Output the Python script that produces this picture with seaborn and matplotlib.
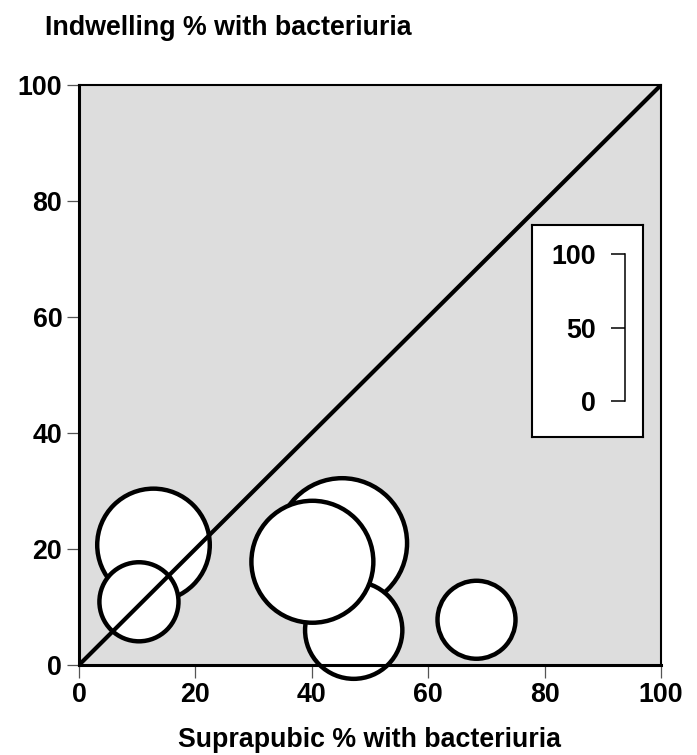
import numpy as np
import pandas as pd
import matplotlib
matplotlib.use("Agg")
import matplotlib.pyplot as plt
import seaborn as sns

# study points: suprapubic vs indwelling % with bacteriuria, bubble weight
suprapubic = [12.8, 10.3, 45.2, 47.2, 40.1, 68.3]
indwelling = [20.7, 10.9, 21.0, 6.0, 17.8, 7.8]
weight = [75, 37, 100, 56, 88, 36]

ticks = [0, 20, 40, 60, 80, 100]
scale_ticks = [0, 50, 100]

df = pd.DataFrame({"x": suprapubic, "y": indwelling, "w": weight})

sns.set_theme(style="white")
plt.rcParams["font.family"] = ["Liberation Sans", "DejaVu Sans"]
plt.rcParams["font.weight"] = "bold"
plt.rcParams["text.color"] = "black"
plt.rcParams["xtick.labelcolor"] = "black"
plt.rcParams["ytick.labelcolor"] = "black"

FS = 19.3

fig = plt.figure(figsize=(6.97, 7.55), dpi=100)
W, H = 697, 755
ax = fig.add_axes([79 / W, 1 - 665 / H, 582 / W, 580 / H])
ax.set_facecolor("#dddddd")

k = 87.6  # marker area per unit weight
sns.scatterplot(data=df, x="x", y="y", size="w", sizes=(0, 100 * k),
                size_norm=(0, 100), color="white", edgecolor="black",
                linewidth=3.2, legend=False, ax=ax, clip_on=False, zorder=2)

ax.plot([0, 100], [0, 100], color="black", lw=3, zorder=3)

ax.set_xlim(0, 100)
ax.set_ylim(0, 100)
ax.set_xticks(ticks)
ax.set_yticks(ticks)
ax.tick_params(axis="both", direction="out", length=9, width=0.9,
               color="#555555", labelsize=FS, pad=3, left=True, bottom=True,
               labelcolor="black")
for lab in ax.get_xticklabels() + ax.get_yticklabels():
    lab.set_fontweight("bold")
ax.set_xlabel("")
ax.set_ylabel("")
for side in ["left", "bottom"]:
    ax.spines[side].set_linewidth(2.2)
    ax.spines[side].set_color("black")
for side in ["top", "right"]:
    ax.spines[side].set_linewidth(1.5)
    ax.spines[side].set_color("black")

fig.text(45 / W, 1 - 28 / H, "Indwelling % with bacteriuria",
         ha="left", va="center", fontsize=FS, fontweight="bold", color="black")
fig.text(370 / W, 1 - 740 / H, "Suprapubic % with bacteriuria",
         ha="center", va="center", fontsize=FS, fontweight="bold", color="black")

# size scale box
box = fig.add_axes([532 / W, 1 - 437 / H, 111 / W, 212 / H], zorder=4)
box.set_facecolor("white")
box.set_xticks([])
box.set_yticks([])
for s in box.spines.values():
    s.set_color("black")
    s.set_linewidth(1.5)

sc = fig.add_axes([625 / W, 1 - 401 / H, 0.0001, 147 / H], zorder=5)
sc.patch.set_alpha(0)
sc.set_ylim(0, 100)
sc.set_yticks(scale_ticks)
sc.set_yticklabels([str(t) for t in scale_ticks])
sc.set_xticks([])
for side in ["top", "right", "bottom"]:
    sc.spines[side].set_visible(False)
sc.spines["left"].set_color("black")
sc.spines["left"].set_linewidth(1.1)
sc.tick_params(axis="y", direction="out", length=10, width=1.1,
               color="black", labelsize=FS, pad=11, left=True,
               labelcolor="black")
for lab in sc.get_yticklabels():
    lab.set_fontweight("bold")

fig.savefig("out.png", dpi=100)
